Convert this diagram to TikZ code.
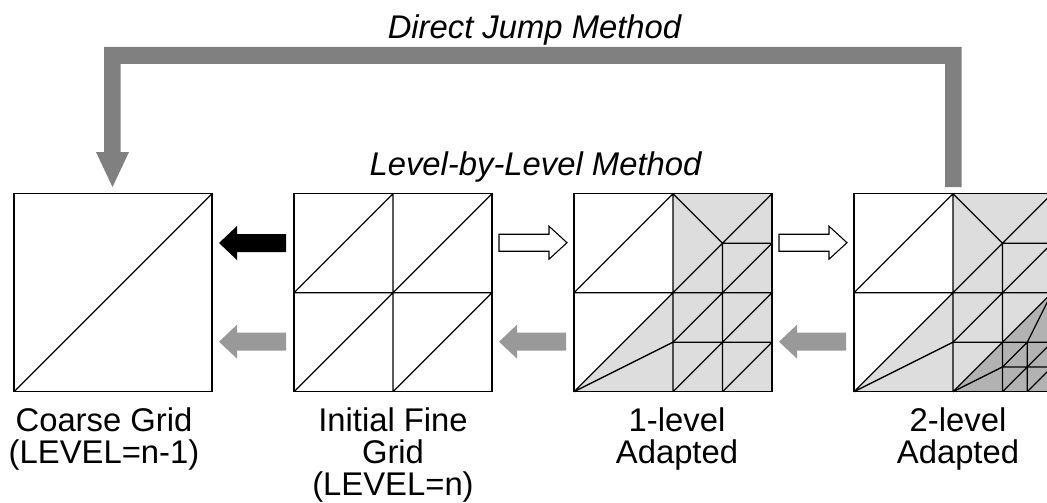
\documentclass[tikz,border=0pt]{standalone}
\usepackage{fontspec}
\setmainfont{Liberation Sans}
\definecolor{lightfill}{HTML}{DDDDDD}
\definecolor{darkfill}{HTML}{B2B2B2}
\definecolor{bigarrow}{HTML}{808080}
\definecolor{midarrow}{HTML}{999999}
\tikzset{
  gridbox/.style={draw=none,minimum size=198pt,inner sep=0pt,outer sep=0pt,anchor=north west},
  meshline/.style={draw=black,line width=1.3pt,line join=miter},
  caption/.style={font=\fontsize{32.8}{32}\selectfont,align=center,anchor=north,inner sep=0pt,text=black},
  titletext/.style={font=\fontsize{32.8}{32}\selectfont\itshape,anchor=base,inner sep=0pt,text=black},
  blockblack/.style={fill=black,draw=none},
  blockgray/.style={fill=midarrow,draw=none},
  blockwhite/.style={fill=white,draw=black,line width=1.1pt},
}
% #1 style, #2 node, left-pointing block arrow to the left of grid node #2
\newcommand{\leftblock}[3]{%
  \fill[#1] ([xshift=-8pt,yshift=#3pt]#2.west) -- ++(0,9) -- ++(-49,0) -- ++(0,8) -- ++(-18,-17) -- ++(18,-17) -- ++(0,8) -- ++(49,0) -- cycle;}
\newcommand{\rightblock}[2]{%
  \draw[blockwhite] ([xshift=7pt,yshift=#2pt]#1.east) -- ++(0,8.5) -- ++(50,0) -- ++(0,8) -- ++(18,-16.5) -- ++(-18,-16.5) -- ++(0,8) -- ++(-50,0) -- cycle;}
\begin{document}
\begin{tikzpicture}[x=1pt,y=-1pt]
\useasboundingbox (0,0) rectangle (1047,503);
\clip (0,0) rectangle (1047,503);
% grid frames
\node[gridbox] (g1) at (14,193.7) {};
\node[gridbox] (g2) at (294,193.7) {};
\node[gridbox] (g3) at (574,193.7) {};
\node[gridbox] (g4) at (854,193.7) {};
% coarse grid
\begin{scope}[shift={(g1.north west)},x=24.75pt,y=-24.75pt]
  \draw[meshline] (0,0) rectangle (8,8);
  \draw[meshline] (0,8) -- (8,0);
\end{scope}
% initial fine grid
\begin{scope}[shift={(g2.north west)},x=24.75pt,y=-24.75pt]
  \draw[meshline] (0,0) rectangle (8,8);
  \draw[meshline] (0,4) -- (8,4) (4,0) -- (4,8) (0,4) -- (4,0) (0,8) -- (8,0) (4,8) -- (8,4);
\end{scope}
% 1-level and 2-level share the light refinement
\foreach \g/\lev in {g3/1,g4/2}{
\begin{scope}[shift={(\g.north west)},x=24.75pt,y=-24.75pt]
  \fill[lightfill] (4,0) -- (8,0) -- (8,8) -- (0,8) -- (4,4) -- cycle;
  \ifnum\lev=2
    \fill[darkfill] (4,8) -- (8,4) -- (8,8) -- cycle;
  \fi
  \draw[meshline] (0,0) rectangle (8,8);
  \draw[meshline] (0,4) -- (8,4) (4,0) -- (4,8) (0,4) -- (4,0) (0,8) -- (8,0)
    (0,8) -- (4,6) (4,0) -- (6,2) (6,2) -- (8,2) (6,2) -- (6,8) (6,4) -- (8,2)
    (4,6) -- (6,4) (4,8) -- (8,4);
  \ifnum\lev=1
    \draw[meshline] (4,6) -- (8,6) (6,8) -- (8,6);
  \else
    \draw[meshline] (4,6) -- (8,6) (6,8) -- (8,6) (4,8) -- (6,7) (6,7) -- (8,7)
      (7,6) -- (7,8) (6,7) -- (7,6) (7,8) -- (8,7) (7,6) -- (8,4);
  \fi
\end{scope}
}
% small arrows
\leftblock{blockblack}{g2}{49.7}
\leftblock{blockgray}{g2}{-49}
\leftblock{blockgray}{g3}{-49}
\leftblock{blockgray}{g4}{-49}
\rightblock{g2}{50}
\rightblock{g3}{50}
% big direct-jump arrow
\coordinate (jumpstart) at (g4.north);
\coordinate (jumpend) at ([xshift=-0.5pt]g1.north);
\fill[bigarrow] ([xshift=8.5pt,yshift=6.7pt]jumpstart) |- (104,47) -- (104,152) -- (96,152)
  -- ([yshift=6.7pt]jumpend) -- (129,152) -- (120.5,152) |- (945,64) |- ([xshift=-8pt,yshift=6.7pt]jumpstart) -- cycle;
% texts
\node[titletext] (t1) at (534.5,38.5) {Direct Jump Method};
\node[titletext] (t2) at (535.5,175) {Level-by-Level Method};
\node[caption] (c1) at (104,407.5) {Coarse Grid\\(LEVEL=n-1)};
\node[caption] (c2) at (393,407.5) {Initial Fine\\Grid\\(LEVEL=n)};
\node[caption] (c3) at (677,407.5) {1-level\\Adapted};
\node[caption] (c4) at (958,407.5) {2-level\\Adapted};
\end{tikzpicture}
\end{document}
